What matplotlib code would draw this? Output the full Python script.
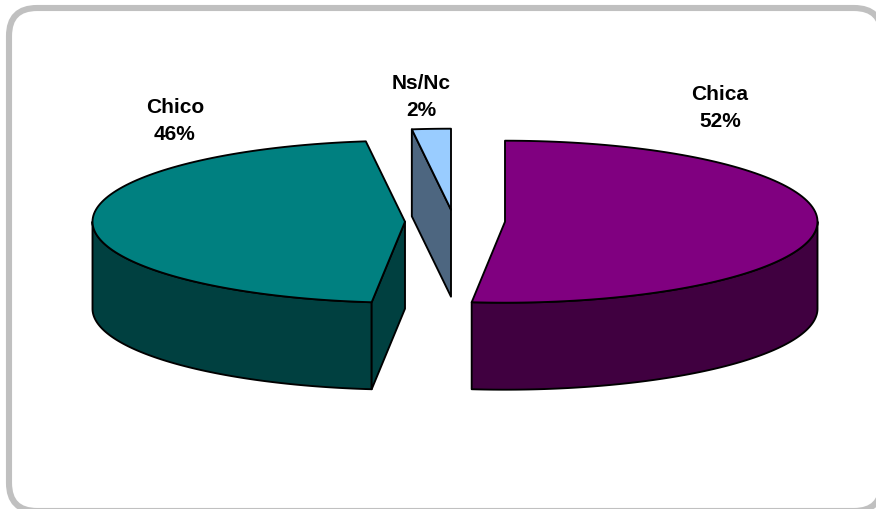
import numpy as np
import matplotlib
matplotlib.use("Agg")
import matplotlib.pyplot as plt
from matplotlib.patches import Polygon, FancyBboxPatch

categories = ["Chica", "Ns/Nc", "Chico"]
values = [51.7, 2.0, 46.3]
shown = ["52%", "2%", "46%"]
top_colors = ["#800080", "#99CCFF", "#008080"]
side_colors = ["#400040", "#4D6680", "#004040"]

W, H = 876, 510
A, B, DEPTH = 312.5, 81, 87
LW = 1.35

fig = plt.figure(figsize=(W / 100, H / 100), dpi=100, facecolor="white")
ax = fig.add_axes([0, 0, 1, 1])
ax.set_xlim(0, W)
ax.set_ylim(H, 0)
ax.axis("off")

ax.add_patch(FancyBboxPatch((9, 9), 873, 503, boxstyle="round,pad=0,rounding_size=28",
                            fc="white", ec="#C0C0C0", lw=4.4, zorder=0))

fracs = np.array(values) / sum(values) * 360
ang_ends = {"Chica": (0, fracs[0]),
            "Chico": (fracs[0], fracs[0] + fracs[2]),
            "Ns/Nc": (fracs[0] + fracs[2], 360)}
centers = {"Chica": (505, 222.7), "Chico": (405, 222.7), "Ns/Nc": (451, 210.7)}
idx = {c: i for i, c in enumerate(categories)}


def pt(c, deg, dz=0):
    """Point on the rim; angle runs clockwise from the top."""
    r = np.radians(deg)
    return np.column_stack((c[0] + A * np.sin(r), c[1] - B * np.cos(r) + dz))


def arc(c, a0, a1, dz=0, n=120):
    return pt(c, np.linspace(a0, a1, n), dz)


def poly(xy, color, z):
    ax.add_patch(Polygon(xy, closed=True, fc=color, ec="black", lw=LW,
                         joinstyle="round", zorder=z))


# Chica
c = centers["Chica"]
a0, a1 = ang_ends["Chica"]
top = arc(c, 90, a1)
poly(np.vstack((top, arc(c, a1, 90, DEPTH))), side_colors[idx["Chica"]], 2)
poly(np.vstack(([c], arc(c, a0, a1))), top_colors[idx["Chica"]], 3)

# Chico
c = centers["Chico"]
a0, a1 = ang_ends["Chico"]
poly(np.vstack((arc(c, a0, 270), arc(c, 270, a0, DEPTH))), side_colors[idx["Chico"]], 2)
poly(np.array([c, (c[0], c[1] + DEPTH), pt(c, a0, DEPTH)[0], pt(c, a0)[0]]),
     side_colors[idx["Chico"]], 2)
poly(np.vstack(([c], arc(c, a0, a1))), top_colors[idx["Chico"]], 3)

# Ns/Nc
c = centers["Ns/Nc"]
a0, a1 = ang_ends["Ns/Nc"]
poly(np.array([pt(c, a0)[0], pt(c, a0, DEPTH)[0], (c[0], c[1] + DEPTH), c]),
     side_colors[idx["Ns/Nc"]], 2)
poly(np.vstack(([c], arc(c, a0, a1))), top_colors[idx["Ns/Nc"]], 3)

label_pos = {"Chica": (720, 108), "Chico": (175, 121), "Ns/Nc": (421, 97)}
for name, p in label_pos.items():
    ax.text(p[0], p[1], f"{name}\n{shown[idx[name]]}", ha="center", va="center",
            family="Liberation Sans", weight="bold", fontsize=15, linespacing=1.55,
            color="black", zorder=5)

fig.savefig("out.png", dpi=100, facecolor="white")
